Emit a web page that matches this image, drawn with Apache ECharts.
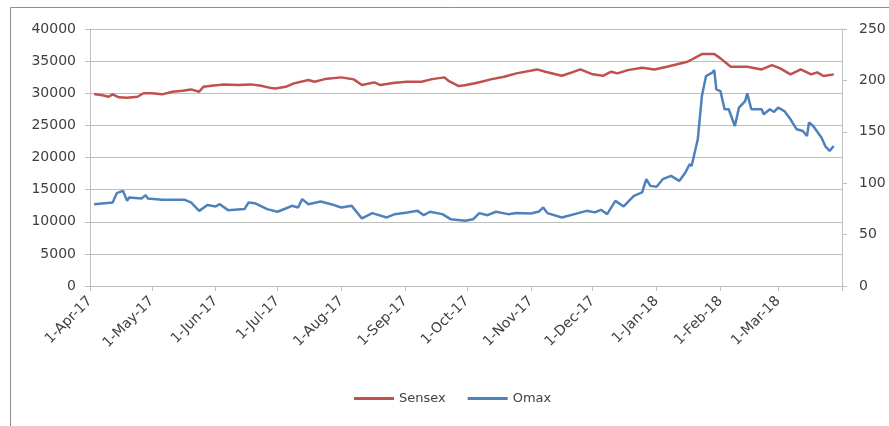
<!DOCTYPE html>
<html>
<head>
<meta charset="utf-8">
<script src="https://cdn.jsdelivr.net/npm/echarts@6/dist/echarts.min.js"></script>
<style>
  html, body { margin: 0; padding: 0; background: #fff; }
  #chart { width: 889px; height: 426px; }
</style>
</head>
<body>
<div id="chart"></div>
<script>
const sensexDates = [
  '2017-04-03', '2017-04-07', '2017-04-10', '2017-04-12', '2017-04-15', '2017-04-19', '2017-04-24', '2017-04-27',
  '2017-05-01', '2017-05-06', '2017-05-11', '2017-05-16', '2017-05-20', '2017-05-24', '2017-05-26', '2017-05-30',
  '2017-06-05', '2017-06-12', '2017-06-18', '2017-06-23', '2017-06-28', '2017-06-30', '2017-07-05', '2017-07-09',
  '2017-07-16', '2017-07-19', '2017-07-24', '2017-08-01', '2017-08-07', '2017-08-11', '2017-08-17', '2017-08-20',
  '2017-08-27', '2017-09-02', '2017-09-09', '2017-09-14', '2017-09-20', '2017-09-22', '2017-09-27', '2017-09-30',
  '2017-10-06', '2017-10-13', '2017-10-19', '2017-10-25', '2017-11-04', '2017-11-08', '2017-11-16', '2017-11-21',
  '2017-11-25', '2017-12-01', '2017-12-06', '2017-12-10', '2017-12-13', '2017-12-18', '2017-12-25', '2017-12-31',
  '2018-01-06', '2018-01-16', '2018-01-23', '2018-01-29', '2018-02-01', '2018-02-06', '2018-02-14', '2018-02-21',
  '2018-02-26', '2018-03-02', '2018-03-07', '2018-03-12', '2018-03-17', '2018-03-20', '2018-03-23', '2018-03-28'
]
const sensexValues = [
  29900, 29700, 29450, 29820, 29360, 29300, 29450, 30000,
  30000, 29830, 30240, 30400, 30600, 30240, 31000, 31170,
  31380, 31280, 31380, 31170, 30800, 30750, 31000, 31540,
  32050, 31800, 32200, 32470, 32160, 31280, 31690, 31280,
  31640, 31800, 31800, 32200, 32470, 31940, 31120, 31250,
  31640, 32200, 32570, 33090, 33710, 33350, 32720, 33240,
  33710, 32940, 32720, 33350, 33090, 33600, 33970, 33710,
  34120, 34900, 36100, 36100, 35430, 34120, 34120, 33710,
  34390, 33870, 32940, 33710, 32940, 33250, 32680, 32940
]
const omaxDates = [
  '2017-04-03', '2017-04-12', '2017-04-14', '2017-04-17', '2017-04-19', '2017-04-20', '2017-04-26', '2017-04-28',
  '2017-04-29', '2017-05-06', '2017-05-17', '2017-05-20', '2017-05-24', '2017-05-28', '2017-06-01', '2017-06-03',
  '2017-06-07', '2017-06-15', '2017-06-17', '2017-06-20', '2017-06-26', '2017-07-01', '2017-07-05', '2017-07-08',
  '2017-07-11', '2017-07-13', '2017-07-16', '2017-07-22', '2017-07-27', '2017-08-01', '2017-08-06', '2017-08-08',
  '2017-08-11', '2017-08-16', '2017-08-23', '2017-08-27', '2017-09-02', '2017-09-07', '2017-09-10', '2017-09-13',
  '2017-09-19', '2017-09-23', '2017-09-30', '2017-10-04', '2017-10-07', '2017-10-11', '2017-10-15', '2017-10-21',
  '2017-10-25', '2017-11-01', '2017-11-05', '2017-11-07', '2017-11-09', '2017-11-16', '2017-11-24', '2017-11-28',
  '2017-12-02', '2017-12-05', '2017-12-08', '2017-12-12', '2017-12-16', '2017-12-21', '2017-12-25', '2017-12-27',
  '2017-12-29', '2018-01-01', '2018-01-04', '2018-01-08', '2018-01-12', '2018-01-15', '2018-01-17', '2018-01-18',
  '2018-01-21', '2018-01-23', '2018-01-25', '2018-01-28', '2018-01-29', '2018-01-30', '2018-02-01', '2018-02-03',
  '2018-02-05', '2018-02-08', '2018-02-10', '2018-02-13', '2018-02-14', '2018-02-16', '2018-02-21', '2018-02-22',
  '2018-02-25', '2018-02-27', '2018-03-01', '2018-03-04', '2018-03-07', '2018-03-10', '2018-03-13', '2018-03-15',
  '2018-03-16', '2018-03-18', '2018-03-22', '2018-03-24', '2018-03-26', '2018-03-28'
]
const omaxValues = [
  79.6, 81.3, 90.3, 92.6, 82.8, 86.1, 85.2, 88.4,
  85.2, 83.8, 83.8, 81.3, 73.1, 78.7, 77.4, 79.6,
  73.8, 74.8, 81.3, 80.6, 74.8, 72.2, 75.4, 78,
  76.4, 84.5, 79.6, 82.2, 79.6, 76.4, 78, 73.1,
  65.7, 70.9, 66.7, 69.9, 71.6, 73.1, 68.9, 72.2,
  69.9, 65, 63.4, 65, 70.9, 68.9, 72.2, 69.9,
  70.9, 70.6, 72.5, 76.4, 70.9, 66.7, 70.9, 73.1,
  71.6, 74.1, 69.9, 82.8, 77.4, 87.7, 91, 103.9,
  97.4, 96.5, 103.9, 107.1, 102.2, 110.4, 118.5, 116.8,
  142.7, 184.8, 204.2, 207.5, 210, 191.3, 189.6, 171.9,
  171.9, 155.6, 173.5, 179.9, 187.4, 171.9, 171.9, 167,
  171.9, 169.3, 173.5, 170.2, 162.2, 152.4, 150.8, 145.9,
  159, 155.6, 144.4, 135.6, 131.4, 136.2
]
const seriesNames = ['Sensex', 'Omax']
const monthNames = ['Jan', 'Feb', 'Mar', 'Apr', 'May', 'Jun', 'Jul', 'Aug', 'Sep', 'Oct', 'Nov', 'Dec']
const xStart = '2017-04-01'
const xEnd = '2018-04-01'

const textColor = '#404040'
const lineGray = '#bfbfbf'
const font = 'DejaVu Sans'

function dateLabel(value) {
  // excel does not label the axis end
  if (value >= new Date(xEnd).getTime()) return ''
  const d = new Date(value)
  return d.getDate() + '-' + monthNames[d.getMonth()] + '-' + String(d.getFullYear()).slice(2)
}

const chart = echarts.init(document.getElementById('chart'), null, { renderer: 'canvas' })

const option = {
  animation: false,
  backgroundColor: '#fff',
  color: ['#c0504d', '#4f81bd'],
  textStyle: { fontFamily: font, color: textColor },
  graphic: [{
    type: 'rect',
    shape: { x: 10.5, y: 7.5, width: 900, height: 440 },
    style: { fill: 'none', stroke: '#8c8c8c', lineWidth: 1 },
    silent: true
  }],
  grid: {
    left: 90,
    right: 47,
    top: 29,
    bottom: 140
  },
  legend: {
    data: seriesNames,
    bottom: 16,
    left: 349,
    icon: 'rect',
    itemWidth: 40,
    itemHeight: 3,
    itemGap: 22,
    textStyle: { fontFamily: font, fontSize: 13, color: textColor }
  },
  xAxis: {
    type: 'time',
    min: xStart,
    max: xEnd,
    splitNumber: 12,
    axisLine: { lineStyle: { color: lineGray, width: 1 } },
    axisTick: { show: true, length: 5, lineStyle: { color: lineGray } },
    splitLine: { show: false },
    minorTick: { show: false },
    axisLabel: {
      rotate: 45,
      margin: 13,
      fontFamily: font,
      fontSize: 14,
      color: textColor,
      hideOverlap: false,
      formatter: dateLabel
    }
  },
  yAxis: [{
    type: 'value',
    min: 0,
    max: 40000,
    interval: 5000,
    axisLine: { show: true, lineStyle: { color: lineGray } },
    axisTick: { show: true, length: 5, lineStyle: { color: lineGray } },
    splitLine: { lineStyle: { color: lineGray, width: 1 } },
    axisLabel: { margin: 14, fontFamily: font, fontSize: 14, color: textColor, formatter: v => String(v) }
  }, {
    type: 'value',
    min: 0,
    max: 250,
    interval: 50,
    position: 'right',
    axisLine: { show: true, lineStyle: { color: lineGray } },
    axisTick: { show: true, length: 5, lineStyle: { color: lineGray } },
    splitLine: { show: false },
    axisLabel: { margin: 17, fontFamily: font, fontSize: 14, color: textColor, formatter: v => String(v) }
  }],
  series: [{
    name: seriesNames[0],
    type: 'line',
    yAxisIndex: 0,
    showSymbol: false,
    lineStyle: { width: 2.5 },
    data: sensexDates.map((d, i) => [d, sensexValues[i]])
  }, {
    name: seriesNames[1],
    type: 'line',
    yAxisIndex: 1,
    showSymbol: false,
    lineStyle: { width: 2.5 },
    data: omaxDates.map((d, i) => [d, omaxValues[i]])
  }]
}

chart.setOption(option)
</script>
</body>
</html>
